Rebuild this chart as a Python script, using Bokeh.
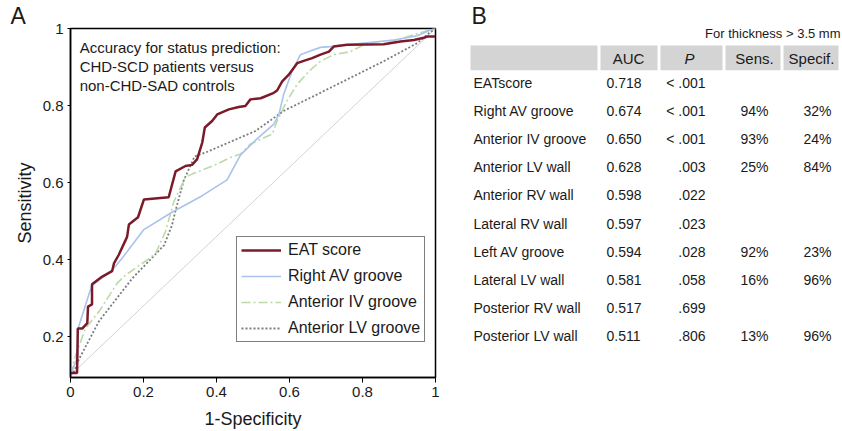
from bokeh.plotting import figure
from bokeh.models import Range1d, FixedTicker, Legend, LegendItem, Label, ColumnDataSource
from bokeh.layouts import row
from bokeh.embed import file_html
from bokeh.resources import INLINE
from bokeh.core.properties import value

FONT = "Liberation Sans"
INK = "#1a1a1a"

# ---------------- data: ROC curves (panel A) ----------------
EAT_X = [0.000, 0.018, 0.020, 0.032, 0.046, 0.048, 0.059, 0.059, 0.087, 0.114, 0.119, 0.132,
         0.155, 0.160, 0.185, 0.201, 0.269, 0.288, 0.315, 0.333, 0.347, 0.361, 0.368, 0.388,
         0.402, 0.434, 0.461, 0.479, 0.493, 0.521, 0.557, 0.566, 0.580, 0.598, 0.621, 0.639,
         0.662, 0.685, 0.708, 0.721, 0.758, 0.858, 0.904, 0.941, 0.968, 0.977, 1.000]
EAT_Y = [0.106, 0.106, 0.221, 0.221, 0.235, 0.278, 0.284, 0.336, 0.356, 0.370, 0.390, 0.412,
         0.459, 0.491, 0.510, 0.556, 0.562, 0.629, 0.643, 0.646, 0.661, 0.704, 0.743, 0.760,
         0.777, 0.790, 0.796, 0.799, 0.816, 0.819, 0.833, 0.839, 0.863, 0.880, 0.910, 0.916,
         0.923, 0.932, 0.940, 0.953, 0.958, 0.959, 0.966, 0.970, 0.976, 0.979, 0.979]

RAV_X = [0.000, 0.020, 0.021, 0.058, 0.114, 0.141, 0.201, 0.278, 0.361, 0.429, 0.466, 0.507,
         0.557, 0.571, 0.584, 0.607, 0.630, 0.653, 0.685, 0.712, 0.758, 0.886, 0.950, 0.986, 1.000]
RAV_Y = [0.100, 0.150, 0.222, 0.332, 0.373, 0.403, 0.478, 0.523, 0.566, 0.607, 0.672, 0.710,
         0.752, 0.777, 0.829, 0.889, 0.932, 0.940, 0.951, 0.953, 0.958, 0.970, 0.981, 0.996, 1.000]

AIV_X = [0.000, 0.010, 0.018, 0.041, 0.078, 0.128, 0.151, 0.210, 0.233, 0.260, 0.283, 0.315,
         0.333, 0.402, 0.438, 0.466, 0.493, 0.553, 0.566, 0.593, 0.621, 0.653, 0.685, 0.721,
         0.767, 0.804, 0.840, 0.895, 0.941, 0.977, 1.000]
AIV_Y = [0.100, 0.140, 0.162, 0.222, 0.265, 0.339, 0.360, 0.399, 0.416, 0.472, 0.550, 0.614,
         0.622, 0.648, 0.665, 0.674, 0.700, 0.726, 0.760, 0.812, 0.855, 0.889, 0.915, 0.932,
         0.940, 0.958, 0.965, 0.970, 0.984, 0.994, 1.000]

ALV_X = [0.000, 0.010, 0.023, 0.078, 0.169, 0.256, 0.278, 0.288, 0.310, 0.340, 0.370, 0.507,
         0.584, 0.676, 0.767, 0.858, 0.950, 0.982, 1.000]
ALV_Y = [0.100, 0.110, 0.141, 0.240, 0.351, 0.437, 0.489, 0.528, 0.605, 0.668, 0.678, 0.734,
         0.786, 0.829, 0.872, 0.915, 0.962, 0.988, 1.000]

DIAG_X = [0.0, 1.0]
DIAG_Y = [0.1, 1.0]

SERIES_NAMES = ["EAT score", "Right AV groove", "Anterior IV groove", "Anterior LV groove"]

X_TICKS = [0.0, 0.2, 0.4, 0.6, 0.8, 1.0]
X_TICK_LABELS = ["0", "0.2", "0.4", "0.6", "0.8", "1"]
Y_TICKS = [0.2, 0.4, 0.6, 0.8, 1.0]
Y_TICK_LABELS = ["0.2", "0.4", "0.6", "0.8", "1"]

NOTE_LINES = ["Accuracy for status prediction:", "CHD-SCD patients versus", "non-CHD-SAD controls"]

# ---------------- data: table (panel B) ----------------
REGIONS = ["EATscore", "Right AV groove", "Anterior IV groove", "Anterior LV wall",
           "Anterior RV wall", "Lateral RV wall", "Left AV groove", "Lateral LV wall",
           "Posterior RV wall", "Posterior LV wall"]
AUC = [0.718, 0.674, 0.650, 0.628, 0.598, 0.597, 0.594, 0.581, 0.517, 0.511]
PVAL = ["< .001", "< .001", "< .001", ".003", ".022", ".023", ".028", ".058", ".699", ".806"]
SENS = [None, 94, 93, 25, None, None, 92, 16, None, 13]
SPEC = [None, 32, 24, 84, None, None, 23, 96, None, 96]
HEADERS = ["", "AUC", "P", "Sens.", "Specif."]
TABLE_NOTE = "For thickness > 3.5 mm"

# ---------------- layout constants (page pixels) ----------------
W_TOTAL, H_TOTAL = 842, 431
W_A = 445
FR_TOP, FR_BOT = 27, 378

# ================= Panel A =================
p1 = figure(width=W_A, height=H_TOTAL, x_range=Range1d(0, 1), y_range=Range1d(0.094, 1.0),
            output_backend="svg", toolbar_location=None, title="A",
            min_border_left=70, min_border_right=W_A - 435, min_border_top=FR_TOP,
            min_border_bottom=H_TOTAL - FR_BOT,
            background_fill_color="white", border_fill_color="white")
p1.title.align = "left"
p1.title.offset = -60
p1.title.standoff = 0
p1.title.text_font = FONT
p1.title.text_font_size = "23px"
p1.title.text_font_style = "normal"
p1.title.text_color = INK

p1.grid.visible = False
p1.outline_line_color = "black"
p1.outline_line_width = 1.5
p1.outline_line_alpha = 1.0

p1.xaxis.ticker = FixedTicker(ticks=X_TICKS)
p1.xaxis.major_label_overrides = dict(zip(X_TICKS, X_TICK_LABELS))
p1.yaxis.ticker = FixedTicker(ticks=Y_TICKS)
p1.yaxis.major_label_overrides = dict(zip(Y_TICKS, Y_TICK_LABELS))
p1.xaxis.axis_label = "1-Specificity"
p1.yaxis.axis_label = "Sensitivity"
for ax in (p1.xaxis, p1.yaxis):
    ax.axis_line_color = "black"
    ax.axis_line_width = 1.5
    ax.major_tick_line_color = "black"
    ax.major_tick_line_width = 1
    ax.major_tick_in = 0
    ax.minor_tick_line_color = None
    ax.major_label_text_font = FONT
    ax.major_label_text_font_size = "15px"
    ax.major_label_text_color = INK
    ax.axis_label_text_font = FONT
    ax.axis_label_text_font_size = "18px"
    ax.axis_label_text_font_style = "normal"
    ax.axis_label_text_color = INK
p1.xaxis.major_tick_out = 5
p1.yaxis.major_tick_out = 3
p1.xaxis.major_label_standoff = 4
p1.yaxis.major_label_standoff = 4
p1.xaxis.axis_label_standoff = 9
p1.yaxis.axis_label_standoff = 5

p1.line(DIAG_X, DIAG_Y, line_color="#d2d2d2", line_width=1)
r_alv = p1.line(ALV_X, ALV_Y, line_color="#7c7c7c", line_width=1.8, line_dash="2 2")
r_aiv = p1.line(AIV_X, AIV_Y, line_color="#bcd9a8", line_width=1.6, line_dash="9 3 2 3")
r_rav = p1.line(RAV_X, RAV_Y, line_color="#a9c3ec", line_width=1.6)
r_eat = p1.line(EAT_X, EAT_Y, line_color="#7b1b2a", line_width=2.5)

legend = Legend(items=[LegendItem(label=SERIES_NAMES[0], renderers=[r_eat]),
                       LegendItem(label=SERIES_NAMES[1], renderers=[r_rav]),
                       LegendItem(label=SERIES_NAMES[2], renderers=[r_aiv]),
                       LegendItem(label=SERIES_NAMES[3], renderers=[r_alv])],
                location=(166, 35), margin=0, padding=4, spacing=8,
                label_height=18, glyph_height=18, glyph_width=40, label_standoff=7,
                label_text_font=FONT, label_text_font_size="16px", label_text_color=INK,
                border_line_color="black", border_line_width=1.5,
                background_fill_color="white", background_fill_alpha=1.0)
p1.add_layout(legend, "center")

for i, t in enumerate(NOTE_LINES):
    p1.add_layout(Label(x=0.025, y=0.951 - 0.05 * i, text=t, text_font=FONT,
                        text_font_size="15px", text_color=INK, text_baseline="middle",
                        text_align="left"))

# ================= Panel B =================
W_B = W_TOTAL - W_A
p2 = figure(width=W_B, height=H_TOTAL, x_range=Range1d(W_A, W_TOTAL),
            y_range=Range1d(FR_BOT, FR_TOP), title="B",
            output_backend="svg", toolbar_location=None,
            min_border_left=0, min_border_right=0, min_border_top=FR_TOP,
            min_border_bottom=H_TOTAL - FR_BOT,
            x_axis_location=None, y_axis_location=None,
            background_fill_color="white", border_fill_color="white")
p2.title.align = "left"
p2.title.offset = 471 - W_A
p2.title.standoff = 0
p2.title.text_font = FONT
p2.title.text_font_size = "23px"
p2.title.text_font_style = "normal"
p2.title.text_color = INK
p2.grid.visible = False
p2.outline_line_color = None

# table geometry (page pixels)
CELL_L = [470, 600, 660, 725, 783]
CELL_R = [597, 657, 722, 780, 838]
HEAD_TOP, HEAD_BOT, HEAD_MID = 44, 69, 57
HEAD_TX = [0, 628, 689, 754, 811]
ROW0, ROW_STEP = 81.7, 28.3
COL_LABEL_X, COL_AUC_X, COL_P_R, COL_SENS_R, COL_SPEC_R = 473, 606, 705, 768, 831

p2.quad(left=CELL_L, right=CELL_R, top=[HEAD_TOP] * 5, bottom=[HEAD_BOT] * 5,
        fill_color="#d4d4d4", line_color=None)

hdr = ColumnDataSource(dict(x=HEAD_TX[1:], y=[HEAD_MID] * 4, t=HEADERS[1:],
                            st=["normal", "italic", "normal", "normal"]))
p2.text(x="x", y="y", text="t", source=hdr, text_font=value(FONT), text_font_size="15px",
        text_font_style="st", text_align="center", text_baseline="middle", text_color=INK)

ys = [ROW0 + ROW_STEP * i for i in range(len(REGIONS))]
p2.text(x=[COL_LABEL_X] * len(REGIONS), y=ys, text=REGIONS, text_font=value(FONT),
        text_font_size="14px", text_align="left", text_baseline="middle", text_color=INK)
p2.text(x=[COL_AUC_X] * len(AUC), y=ys, text=[f"{a:.3f}" for a in AUC], text_font=value(FONT),
        text_font_size="14px", text_align="left", text_baseline="middle", text_color=INK)
p2.text(x=[COL_P_R] * len(PVAL), y=ys, text=PVAL, text_font=value(FONT),
        text_font_size="14px", text_align="right", text_baseline="middle", text_color=INK)
p2.text(x=[COL_SENS_R] * len(SENS), y=ys, text=["" if s is None else f"{s}%" for s in SENS],
        text_font=value(FONT), text_font_size="14px", text_align="right",
        text_baseline="middle", text_color=INK)
p2.text(x=[COL_SPEC_R] * len(SPEC), y=ys, text=["" if s is None else f"{s}%" for s in SPEC],
        text_font=value(FONT), text_font_size="14px", text_align="right",
        text_baseline="middle", text_color=INK)

p2.text(x=[840], y=[32], text=[TABLE_NOTE], text_font=value(FONT), text_font_size="13px",
        text_align="right", text_baseline="middle", text_color=INK)

layout = row(p1, p2)
open("out.html", "w").write(file_html(layout, INLINE))
